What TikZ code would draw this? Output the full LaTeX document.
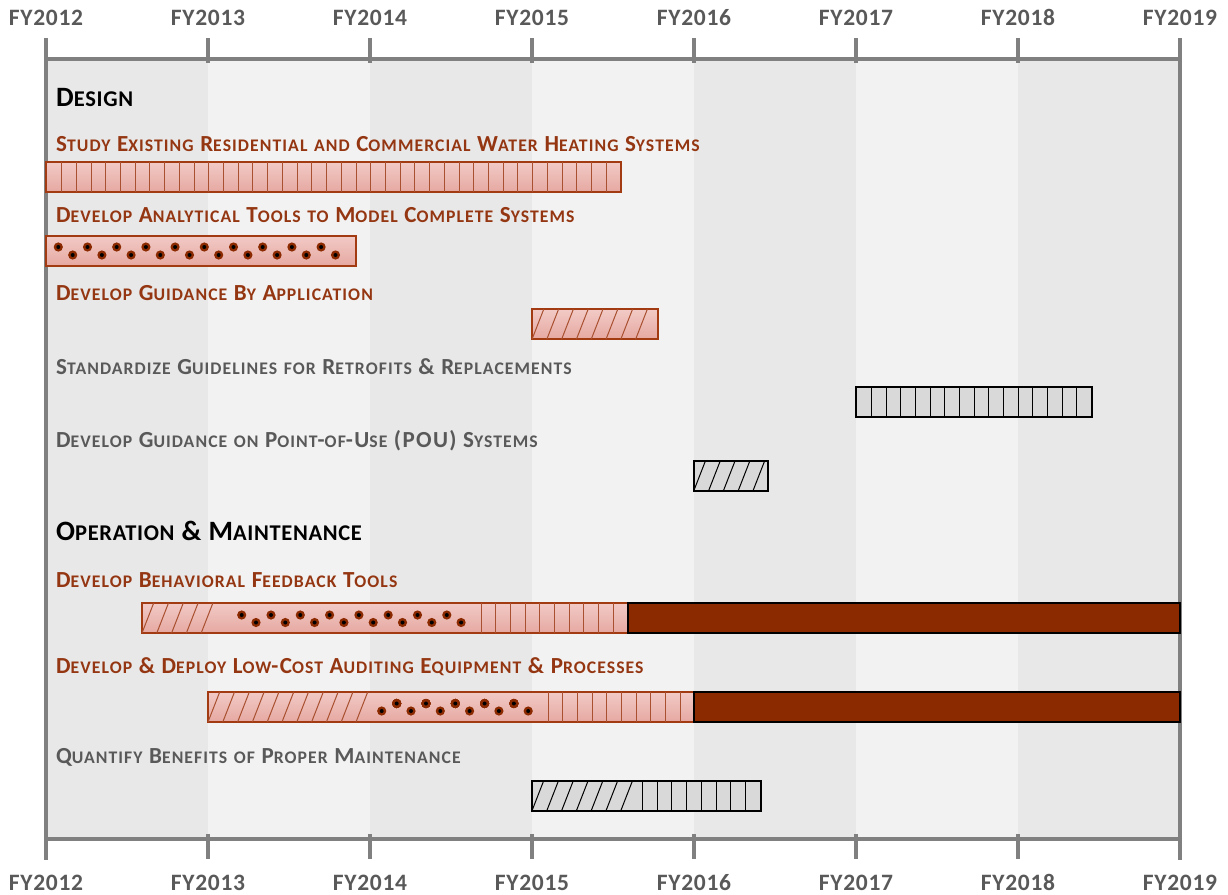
\documentclass[tikz,border=0pt]{standalone}
\usepackage{fontspec}
\setmainfont{Carlito}
\usetikzlibrary{positioning}
\definecolor[named]{Rust}{HTML}{8B2A00}
\definecolor[named]{RustText}{HTML}{943611}
\definecolor[named]{RustEdge}{HTML}{A33B12}
\definecolor[named]{RustHatch}{HTML}{A8502F}
\definecolor[named]{PinkTop}{HTML}{F2CAC6}
\definecolor[named]{PinkBot}{HTML}{E6A8A1}
\definecolor[named]{BarGray}{HTML}{D9D9D9}
\definecolor[named]{TaskGray}{HTML}{595959}
\definecolor[named]{AxisGray}{HTML}{808080}
\definecolor[named]{BandDark}{HTML}{E8E8E8}
\definecolor[named]{BandLight}{HTML}{F2F2F2}
\newcommand{\smallsz}{17.7}
\newcommand{\sm}[1]{{\fontsize{\smallsz}{\smallsz}\selectfont #1}}
\newcommand{\dotmark}[2]{\fill[Rust] (#1,#2) circle (4.6pt); \fill[black] (#1,#2) circle (2pt);}
\tikzset{axis/.style ={
        draw=AxisGray,
        line width=3.5pt,
    },
    yearlabel/.style ={
        anchor=base,
        inner sep=0pt,
        text=TaskGray,
        font=\bfseries\fontsize{23.5}{23.5}\selectfont\addfontfeature{LetterSpace=3},
    },
    heading/.style ={
        anchor=base west,
        inner sep=0pt,
        text=black,
        font=\bfseries\fontsize{28}{28}\selectfont\addfontfeature{LetterSpace=3}\renewcommand{\smallsz}{22.5},
    },
    redtask/.style ={
        anchor=base west,
        inner sep=0pt,
        text=RustText,
        font=\bfseries\fontsize{23}{23}\selectfont\addfontfeature{LetterSpace=6},
    },
    graytask/.style ={
        redtask,
        text=TaskGray,
    },
    bar/.style ={
        anchor=north west,
        minimum height=30pt,
        inner sep=0pt,
        outer sep=0pt,
        line width=2pt,
    },
    redbar/.style ={
        bar,
        draw=RustEdge,
        top color=PinkTop,
        bottom color=PinkBot,
    },
    graybar/.style ={
        bar,
        draw=black,
        fill=BarGray,
    },
    solidbar/.style ={
        bar,
        draw=black,
        fill=Rust,
    },
    redhatch/.style ={
        draw=RustHatch,
        line width=1pt,
    },
    grayhatch/.style ={
        draw=black,
        line width=1pt,
    }}

\begin{document}
\begin{tikzpicture}[x=1pt, y=-1pt]
    \useasboundingbox (0,0) rectangle (1228,894);

    % year bands
    \foreach \i in {0,2,4,6} \fill[BandDark] (46+162*\i,59) rectangle ++(162,780);
    \foreach \i in {1,3,5} \fill[BandLight] (46+162*\i,59) rectangle ++(162,780);

    % axes
    \draw[axis] (46,59) -- (1180,59);
    \draw[axis] (46,839) -- (1180,839);
    \draw[axis] (46,38) -- (46,860);
    \draw[axis] (1180,38) -- (1180,860);
    \foreach \i in {1,...,6} {
        \draw[axis] (46+162*\i,38) -- (46+162*\i,63);
        \draw[axis] (46+162*\i,834) -- (46+162*\i,859);
    }
    \foreach \yr [count=\i from 0] in {2012,...,2019} {
        \node[yearlabel] (top\yr) at (46+162*\i,25) {FY\yr};
        \node[yearlabel] (bottom\yr) at (46+162*\i,890) {FY\yr};
    }

    % design
    \node[heading] (design) at (56,106.7) {D\sm{ESIGN}};
    \node[redtask] (study) at (56,151) {S\sm{TUDY} E\sm{XISTING} R\sm{ESIDENTIAL} \sm{AND} C\sm{OMMERCIAL} W\sm{ATER} H\sm{EATING} S\sm{YSTEMS}};
    \node[redbar, minimum width=575pt] (studybar) at (46,162) {};
    \foreach \i in {0,...,37} \draw[redhatch] (61.6+\i*14.72,162) -- ++(0,30);

    \node[redtask] (tools) at (56,222.7) {D\sm{EVELOP} A\sm{NALYTICAL} T\sm{OOLS} \sm{TO} M\sm{ODEL} C\sm{OMPLETE} S\sm{YSTEMS}};
    \node[redbar, minimum width=310pt] (toolsbar) at (46,236) {};
    \foreach \i in {0,...,9} {\dotmark{58.3+\i*29.2}{247} \dotmark{72.7+\i*29.2}{255}}

    \node[redtask] (application) at (56,300) {D\sm{EVELOP} G\sm{UIDANCE} B\sm{Y} A\sm{PPLICATION}};
    \node[redbar, minimum width=126pt] (applicationbar) at (532,309.3) {};
    \foreach \i in {0,...,7} \draw[redhatch] (532+\i*14.8,339.3) -- ++(11.7,-30);

    \node[graytask] (standardize) at (56,374.3) {S\sm{TANDARDIZE} G\sm{UIDELINES} \sm{FOR} R\sm{ETROFITS} \& R\sm{EPLACEMENTS}};
    \node[graybar, minimum width=235.5pt] (standardizebar) at (856,387.3) {};
    \foreach \i in {0,...,14} \draw[grayhatch] (871.5+\i*14.66,387.3) -- ++(0,30);

    \node[graytask] (pou) at (56,447.7) {D\sm{EVELOP} G\sm{UIDANCE} \sm{ON} P\sm{OINT}-\sm{OF}-U\sm{SE} (POU) S\sm{YSTEMS}};
    \node[graybar, minimum width=74.6pt] (poubar) at (693.7,461) {};
    \foreach \i in {0,...,4} \draw[grayhatch] (693.7+\i*14.8,491) -- ++(11.7,-30);

    % operation and maintenance
    \node[heading] (operation) at (56,540.7) {O\sm{PERATION} \& M\sm{AINTENANCE}};
    \node[redtask] (feedback) at (56,587.3) {D\sm{EVELOP} B\sm{EHAVIORAL} F\sm{EEDBACK} T\sm{OOLS}};
    \node[redbar, minimum width=485.7pt] (feedbackbar) at (142,603) {};
    \foreach \i in {0,...,4} \draw[redhatch] (142+\i*14.8,633) -- ++(11.7,-30);
    \foreach \i in {0,...,7} {\dotmark{241.7+\i*29.3}{615} \dotmark{256+\i*29.3}{622.5}}
    \foreach \i in {0,...,9} \draw[redhatch] (481+\i*14.7,603) -- ++(0,30);
    \node[solidbar, minimum width=552.3pt] (feedbacksolid) at (627.7,603) {};

    \node[redtask] (auditing) at (56,673.5) {D\sm{EVELOP} \& D\sm{EPLOY} L\sm{OW}-C\sm{OST} A\sm{UDITING} E\sm{QUIPMENT} \& P\sm{ROCESSES}};
    \node[redbar, minimum width=486pt] (auditingbar) at (208,692) {};
    \foreach \i in {0,...,10} \draw[redhatch] (208+\i*14.8,722) -- ++(11.7,-30);
    \foreach \i in {0,...,5} \dotmark{381.7+\i*29.3}{711}
    \foreach \i in {0,...,4} \dotmark{396.7+\i*29.3}{703.5}
    \foreach \i in {0,...,9} \draw[redhatch] (548+\i*14.7,692) -- ++(0,30);
    \node[solidbar, minimum width=486pt] (auditingsolid) at (694,692) {};

    \node[graytask] (benefits) at (56,763.5) {Q\sm{UANTIFY} B\sm{ENEFITS} \sm{OF} P\sm{ROPER} M\sm{AINTENANCE}};
    \node[graybar, minimum width=229pt] (benefitsbar) at (532,780.7) {};
    \foreach \i in {0,...,6} \draw[grayhatch] (532+\i*14.8,810.7) -- ++(11.7,-30);
    \foreach \i in {0,...,7} \draw[grayhatch] (642.3+\i*14.75,780.7) -- ++(0,30);

\end{tikzpicture}
\end{document}
